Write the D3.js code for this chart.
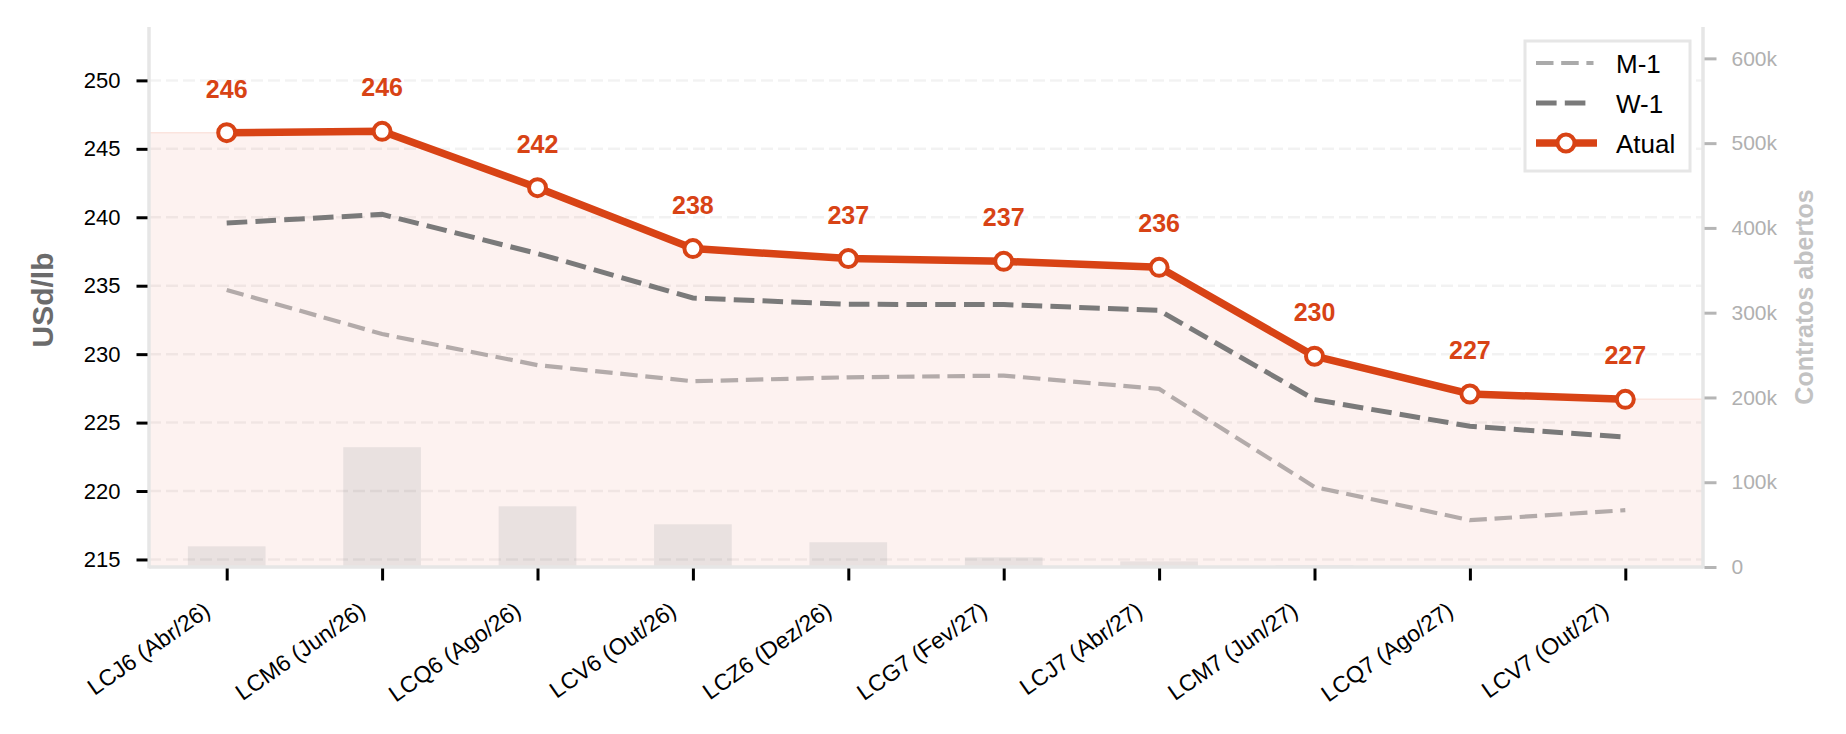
<!doctype html>
<html lang="pt">
<head>
<meta charset="utf-8">
<title>Curva futura</title>
<script src="https://cdn.jsdelivr.net/npm/d3@7"></script>
<style>
  body { margin: 0; background: #fff; }
  text { font-family: "Liberation Sans", Arial, sans-serif; }
</style>
</head>
<body>
<script>
// contracts on the curve
var cats = ["LCJ6 (Abr/26)", "LCM6 (Jun/26)", "LCQ6 (Ago/26)", "LCV6 (Out/26)", "LCZ6 (Dez/26)",
            "LCG7 (Fev/27)", "LCJ7 (Abr/27)", "LCM7 (Jun/27)", "LCQ7 (Ago/27)", "LCV7 (Out/27)"];
var atual = [246.18, 246.28, 242.16, 237.71, 236.98, 236.78, 236.34, 229.85, 227.09, 226.7];
var w1 = [239.58, 240.21, 237.35, 234.1, 233.64, 233.62, 233.2, 226.68, 224.73, 223.95];
var m1 = [234.69, 231.47, 229.2, 228.02, 228.31, 228.43, 227.46, 220.3, 217.87, 218.6];
var openInt = [24400, 141300, 71600, 50400, 29200, 11400, 6700, 2000, 500, 300];
var yTicks = [215, 220, 225, 230, 235, 240, 245, 250];
var rTicks = [0, 100000, 200000, 300000, 400000, 500000, 600000];

var W = 1846, H = 734;
var pL = 149, pR = 1703, pT = 27, pB = 567;
var orange = "#d84315";

var svg = d3.select("body").append("svg").attr("width", W).attr("height", H);

var x = d3.scaleLinear().domain([-0.5, 9.5]).range([pL, pR]);
var y = d3.scaleLinear().domain([214.45, 253.9]).range([pB, pT]);
var y2 = d3.scaleLinear().domain([0, 637000]).range([pB, pT]);

// shaded area under current curve
var areaPts = [{i: -0.5, v: atual[0]}];
atual.forEach(function(v, i){ areaPts.push({i: i, v: v}); });
areaPts.push({i: 9.5, v: atual[atual.length - 1]});
svg.append("path").datum(areaPts)
    .attr("d", d3.area().x(function(d){ return x(d.i); }).y0(pB).y1(function(d){ return y(d.v); }))
    .attr("fill", "#fdf2f0")
    .attr("stroke", "#fbe4de").attr("stroke-width", 1.5);

// open interest bars (right axis)
svg.append("g").selectAll("rect").data(openInt).enter().append("rect")
    .attr("x", function(d, i){ return x(i - 0.25); })
    .attr("width", function(){ return x(0.25) - x(-0.25); })
    .attr("y", function(d){ return y2(d); })
    .attr("height", function(d){ return y2(0) - y2(d); })
    .attr("fill", "#e9e1e0");

// grid
svg.append("g").selectAll("line").data(yTicks).enter().append("line")
    .attr("x1", pL).attr("x2", pR)
    .attr("y1", function(d){ return y(d); }).attr("y2", function(d){ return y(d); })
    .attr("stroke", "#000").attr("stroke-opacity", 0.05).attr("stroke-width", 2.5)
    .attr("stroke-dasharray", "12,5");

// spines
svg.append("line").attr("x1", pL).attr("x2", pL).attr("y1", pT).attr("y2", pB + 1.5)
    .attr("stroke", "#e6e6e6").attr("stroke-width", 3.5);
svg.append("line").attr("x1", pR).attr("x2", pR).attr("y1", pT).attr("y2", pB + 1.5)
    .attr("stroke", "#e6e6e6").attr("stroke-width", 3.5);
svg.append("line").attr("x1", pL).attr("x2", pR).attr("y1", pB).attr("y2", pB)
    .attr("stroke", "#e6e6e6").attr("stroke-width", 3.5);

// left axis
var yAxis = svg.append("g").attr("transform", "translate(" + (pL - 1.5) + ",0)")
    .call(d3.axisLeft(y).tickValues(yTicks).tickSize(11).tickPadding(16));
yAxis.select(".domain").remove();
yAxis.selectAll(".tick line").attr("stroke", "#000").attr("stroke-width", 3);
yAxis.selectAll(".tick text").attr("font-size", 22).attr("fill", "#000")
    .attr("font-family", "Liberation Sans, Arial, sans-serif");

// right axis
var rAxis = svg.append("g").attr("transform", "translate(" + (pR + 1.5) + ",0)")
    .call(d3.axisRight(y2).tickValues(rTicks).tickSize(12).tickPadding(15)
        .tickFormat(function(d){ return d === 0 ? "0" : (d / 1000) + "k"; }));
rAxis.select(".domain").remove();
rAxis.selectAll(".tick line").attr("stroke", "#b5b5b5").attr("stroke-width", 3);
rAxis.selectAll(".tick text").attr("font-size", 21).attr("fill", "#b0b0b0")
    .attr("font-family", "Liberation Sans, Arial, sans-serif");

// bottom axis
var xAxis = svg.append("g").attr("transform", "translate(0," + (pB + 1.5) + ")")
    .call(d3.axisBottom(x).tickValues(d3.range(cats.length)).tickSize(12).tickFormat(""));
xAxis.select(".domain").remove();
xAxis.selectAll(".tick line").attr("stroke", "#000").attr("stroke-width", 3);

svg.append("g").selectAll("text").data(cats).enter().append("text")
    .attr("transform", function(d, i){ return "translate(" + (x(i) - 15) + ",614) rotate(-35)"; })
    .attr("text-anchor", "end").attr("font-size", 23).attr("fill", "#000")
    .text(function(d){ return d; });

// axis titles
svg.append("text").attr("transform", "translate(53,300) rotate(-90)")
    .attr("text-anchor", "middle").attr("font-size", 30).attr("font-weight", "bold")
    .attr("fill", "#6b6b6b").text("USd/lb");
svg.append("text").attr("transform", "translate(1813,297) rotate(-90)")
    .attr("text-anchor", "middle").attr("font-size", 25).attr("font-weight", "bold")
    .attr("fill", "#c2c2c2").text("Contratos abertos");

// lines
var line = d3.line().x(function(d, i){ return x(i); }).y(function(d){ return y(d); });

svg.append("path").datum(m1).attr("d", line)
    .attr("fill", "none").attr("stroke", "#b3abaa").attr("stroke-width", 4.2)
    .attr("stroke-dasharray", "17.5,7.7");
svg.append("path").datum(w1).attr("d", line)
    .attr("fill", "none").attr("stroke", "#7a7a7a").attr("stroke-width", 5)
    .attr("stroke-dasharray", "20.6,8.2");
svg.append("path").datum(atual).attr("d", line)
    .attr("fill", "none").attr("stroke", orange).attr("stroke-width", 7.5)
    .attr("stroke-linejoin", "round");

svg.append("g").selectAll("circle").data(atual).enter().append("circle")
    .attr("cx", function(d, i){ return x(i); })
    .attr("cy", function(d){ return y(d); })
    .attr("r", 8.5).attr("fill", "#fff").attr("stroke", orange).attr("stroke-width", 4);

svg.append("g").selectAll("text").data(atual).enter().append("text")
    .attr("x", function(d, i){ return x(i); })
    .attr("y", function(d){ return y(d) - 35; })
    .attr("text-anchor", "middle").attr("font-size", 25).attr("font-weight", "bold")
    .attr("fill", orange)
    .text(function(d){ return Math.round(d); });

// legend
var lg = svg.append("g");
lg.append("rect").attr("x", 1525).attr("y", 41).attr("width", 165).attr("height", 130)
    .attr("fill", "#fff").attr("stroke", "#e6e6e6").attr("stroke-width", 3);
var items = [
    {name: "M-1", color: "#aaaaaa", w: 4.2, dash: "17.5,7.7", x2: 1593.5, y: 63},
    {name: "W-1", color: "#7a7a7a", w: 5, dash: "20.6,8.2", x2: 1587, y: 103},
    {name: "Atual", color: orange, w: 7.5, dash: null, x2: 1597, y: 143}
];
items.forEach(function(it){
    var l = lg.append("line").attr("x1", 1536).attr("x2", it.x2)
        .attr("y1", it.y).attr("y2", it.y)
        .attr("stroke", it.color).attr("stroke-width", it.w);
    if (it.dash) l.attr("stroke-dasharray", it.dash);
    else lg.append("circle").attr("cx", 1566).attr("cy", it.y).attr("r", 8.5)
        .attr("fill", "#fff").attr("stroke", orange).attr("stroke-width", 4);
    lg.append("text").attr("x", 1616).attr("y", it.y + 9.5)
        .attr("font-size", 26).attr("fill", "#000").text(it.name);
});
</script>
</body>
</html>
